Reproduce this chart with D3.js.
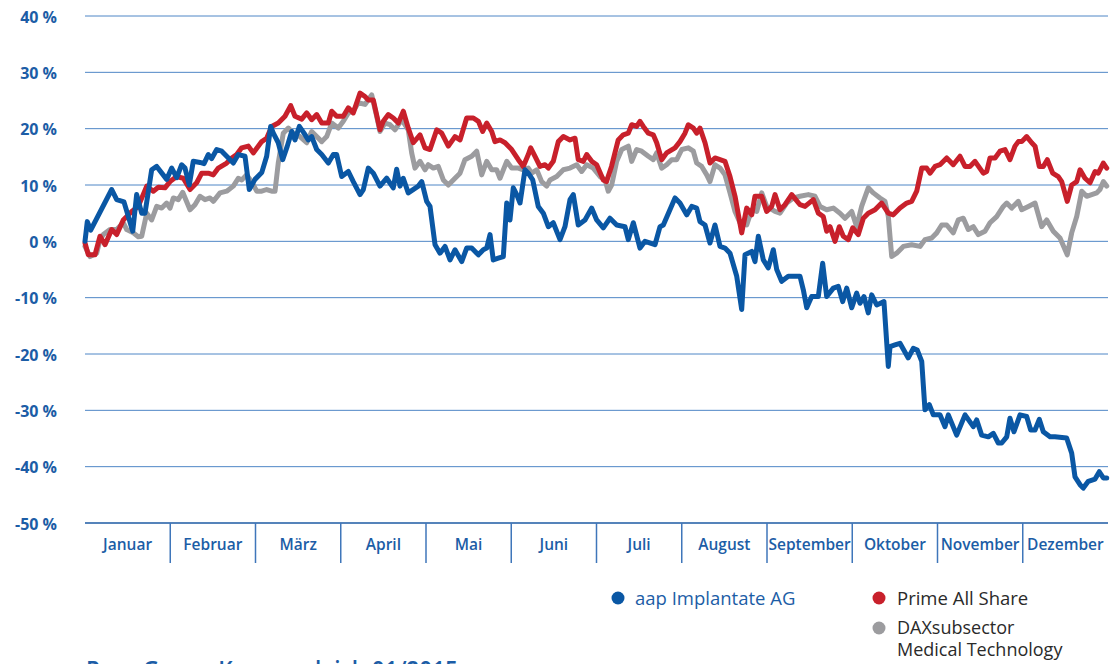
<!DOCTYPE html>
<html><head><meta charset="utf-8">
<script src="https://cdn.jsdelivr.net/npm/d3@7"></script>
<style>
html,body{margin:0;padding:0;background:#fff;overflow:hidden}
svg{display:block}
text{font-family:"Open Sans","DejaVu Sans",sans-serif}
</style></head>
<body>
<svg id="chart" width="1111" height="664"></svg>
<script>
// ---- data ----
const months = ["Januar","Februar","März","April","Mai","Juni","Juli","August","September","Oktober","November","Dezember"];
const yTicks = [40,30,20,10,0,-10,-20,-30,-40,-50];
const seriesNames = ["aap Implantate AG","Prime All Share","DAXsubsector","Medical Technology"];
const titleText = "Peer-Group-Kursvergleich 01/2015";

// [month position (0 = 1 Jan, 12 = 31 Dec), performance in %]
const aap = [[0,0],[0.027,3.5],[0.067,2],[0.313,9.2],[0.372,7.4],[0.457,7],[0.56,1.8],[0.606,8.3],[0.665,5],[0.704,5],[0.782,12.7],[0.841,13.3],[0.958,11],[1.017,13],[1.076,11.3],[1.134,13.6],[1.173,13],[1.223,10],[1.27,14.2],[1.349,14],[1.396,13.8],[1.446,15.4],[1.486,14.7],[1.545,16.3],[1.604,16],[1.74,13.9],[1.798,15.4],[1.877,15.1],[1.927,9.2],[1.994,11],[2.073,12.2],[2.131,15.1],[2.178,20.4],[2.209,19.2],[2.267,17.5],[2.319,14.5],[2.373,16.9],[2.425,19.5],[2.463,18],[2.514,20.4],[2.569,19.2],[2.619,18],[2.659,18.6],[2.718,16.3],[2.777,15.4],[2.854,13.9],[2.913,15.4],[2.952,15.4],[3.011,11.5],[3.089,12.4],[3.147,10.6],[3.226,8.3],[3.265,9.2],[3.323,13],[3.382,12.1],[3.46,9.8],[3.539,11.2],[3.616,9.5],[3.656,12.8],[3.695,9.8],[3.733,11.2],[3.792,8.6],[3.91,9.8],[3.95,10.6],[4.008,7.1],[4.047,6.2],[4.106,-0.6],[4.164,-2.1],[4.223,-0.9],[4.282,-3.3],[4.34,-1.5],[4.419,-3.6],[4.477,-1.2],[4.536,-1.2],[4.614,-2.4],[4.672,-1.5],[4.712,-1.2],[4.751,1.2],[4.789,-3.3],[4.848,-3],[4.907,-2.7],[4.947,6.8],[4.985,3.8],[5.024,9.5],[5.064,8.3],[5.103,6.8],[5.161,12.7],[5.2,12.1],[5.252,10.9],[5.317,6.2],[5.376,5],[5.435,2.6],[5.493,3.3],[5.572,0.3],[5.63,2.6],[5.689,7.4],[5.728,8.3],[5.786,2.9],[5.865,3.8],[5.944,5.9],[6.002,3.8],[6.08,2.4],[6.158,4.1],[6.237,2.9],[6.334,2.6],[6.373,0.3],[6.432,3.3],[6.51,-1.2],[6.569,0],[6.686,-0.6],[6.745,2.6],[6.784,2.9],[6.921,7.7],[6.979,6.8],[7.058,4.7],[7.117,6.2],[7.175,5.9],[7.214,3.5],[7.273,2.9],[7.331,-0.3],[7.39,2.9],[7.449,-0.9],[7.507,-1.2],[7.566,-2.1],[7.645,-6.2],[7.703,-12.1],[7.742,-2.4],[7.821,-1.8],[7.859,-3.6],[7.898,0.9],[7.957,-3.3],[8.015,-4.7],[8.074,-1.5],[8.114,-5],[8.172,-7.1],[8.25,-6.2],[8.387,-6.2],[8.426,-8.6],[8.466,-11.8],[8.524,-9.8],[8.602,-9.8],[8.653,-3.9],[8.7,-9.8],[8.778,-8.3],[8.836,-8],[8.888,-10.7],[8.935,-8.3],[8.994,-11.8],[9.052,-9.2],[9.091,-11],[9.138,-9.8],[9.188,-12.7],[9.228,-9.5],[9.287,-11.3],[9.372,-10.7],[9.423,-22.2],[9.443,-18.7],[9.501,-18.4],[9.56,-18.1],[9.657,-20.7],[9.716,-19],[9.763,-19.3],[9.815,-21.3],[9.853,-29.9],[9.904,-29],[9.951,-30.8],[10.029,-30.8],[10.088,-32.9],[10.127,-30.8],[10.225,-34.4],[10.323,-30.8],[10.42,-32.9],[10.46,-31.7],[10.518,-34.4],[10.596,-34.7],[10.655,-34.1],[10.713,-35.8],[10.753,-35.8],[10.812,-34.7],[10.85,-31.4],[10.897,-33.8],[10.968,-30.8],[11.046,-31.1],[11.093,-33.5],[11.144,-33.5],[11.194,-31.6],[11.241,-33.8],[11.32,-34.7],[11.378,-34.7],[11.515,-34.9],[11.574,-37.6],[11.613,-41.8],[11.672,-43.2],[11.71,-43.8],[11.769,-42.6],[11.848,-42.2],[11.898,-40.9],[11.945,-42],[11.985,-42]];

const prime = [[0,-0.3],[0.039,-2.4],[0.117,-2.4],[0.176,0.9],[0.235,-0.6],[0.313,2.1],[0.372,1.2],[0.449,3.8],[0.548,5.3],[0.625,6.2],[0.724,9.8],[0.801,8.9],[0.86,9.6],[0.938,9.5],[0.997,10.6],[1.076,11.5],[1.153,11.2],[1.232,9.2],[1.31,10.4],[1.369,12.1],[1.446,12.1],[1.505,11.8],[1.564,13],[1.662,13.9],[1.721,14.8],[1.779,15.4],[1.838,16.6],[1.916,16.9],[1.974,15.7],[2.073,17.7],[2.131,18.3],[2.19,20.4],[2.267,21],[2.346,22.2],[2.413,24.1],[2.463,22.2],[2.542,21.7],[2.601,22.8],[2.659,21.6],[2.718,22.5],[2.777,21],[2.854,21],[2.894,23.1],[2.952,22.2],[3.03,22.2],[3.089,23.7],[3.147,22.8],[3.226,26.3],[3.284,25.7],[3.323,25.1],[3.382,25.1],[3.46,19.8],[3.499,21.3],[3.558,22.5],[3.616,21.9],[3.675,21],[3.734,23.1],[3.792,20.1],[3.851,17.5],[3.93,18.9],[3.988,16.6],[4.047,16.3],[4.126,19.8],[4.184,19.2],[4.262,16.9],[4.34,18.6],[4.399,18],[4.477,21.9],[4.555,21.9],[4.614,21.3],[4.665,19.5],[4.712,21],[4.771,19.5],[4.809,17.7],[4.868,18],[4.927,17.5],[5.005,16.3],[5.083,14.5],[5.141,13.3],[5.2,15.4],[5.228,16.6],[5.279,15.1],[5.337,13.3],[5.396,13.6],[5.435,13],[5.493,14.2],[5.552,17.7],[5.611,18.6],[5.689,18],[5.748,18.3],[5.786,14.5],[5.845,14.2],[5.885,15.4],[5.944,14.2],[6.002,13.6],[6.08,10.9],[6.117,10.6],[6.176,13.3],[6.255,18],[6.314,18.9],[6.373,19.2],[6.413,20.7],[6.471,20.4],[6.51,21.3],[6.549,20.4],[6.608,19.2],[6.666,18.9],[6.706,17.5],[6.765,14.5],[6.823,15.7],[6.921,16.6],[6.979,17.7],[7.038,19.2],[7.077,20.7],[7.136,20.1],[7.175,19.2],[7.214,20.1],[7.273,17.5],[7.331,13.9],[7.39,14.8],[7.449,14.5],[7.507,14.2],[7.566,11.5],[7.625,8],[7.703,1.5],[7.762,5.9],[7.821,4.7],[7.859,8],[7.938,8],[7.996,5.3],[8.055,6.2],[8.094,8.3],[8.152,5.6],[8.211,6.5],[8.29,8.3],[8.387,6.5],[8.446,6.2],[8.543,7.4],[8.602,5],[8.66,4.4],[8.7,1.8],[8.739,2.6],[8.798,0],[8.848,2.6],[8.895,0.9],[8.954,0.3],[9.005,2.4],[9.071,1.2],[9.13,4.1],[9.188,5],[9.267,5.6],[9.345,6.8],[9.423,5],[9.481,4.7],[9.56,5.9],[9.639,6.8],[9.697,7.1],[9.756,8.9],[9.815,13],[9.873,13],[9.912,12.1],[9.971,13.3],[10.029,13.6],[10.108,14.8],[10.185,13.6],[10.264,15.1],[10.323,13.3],[10.381,13.3],[10.44,14.2],[10.537,12.1],[10.577,12.4],[10.616,14.8],[10.675,14.8],[10.733,16],[10.792,16.3],[10.85,14.5],[10.909,16.9],[10.948,17.7],[10.988,17.7],[11.046,18.6],[11.105,17.5],[11.144,16.9],[11.194,13.3],[11.241,13.3],[11.288,14.5],[11.351,12.1],[11.417,11.5],[11.457,10.6],[11.522,7.1],[11.574,10],[11.633,10.6],[11.672,12.7],[11.73,11.2],[11.789,10.4],[11.848,12.4],[11.886,12.1],[11.945,13.9],[11.985,13]];

const dax = [[0,-0.9],[0.059,-2.7],[0.137,-2.1],[0.176,0.3],[0.215,1.2],[0.293,2.1],[0.372,2.1],[0.449,3.3],[0.489,2.1],[0.567,1.5],[0.625,0.8],[0.665,0.9],[0.724,5],[0.782,3.8],[0.841,6.2],[0.9,5.9],[0.958,6.8],[0.997,5.9],[1.036,7.7],[1.094,7.4],[1.146,8.7],[1.232,5.6],[1.29,6.5],[1.349,8],[1.408,7.4],[1.466,7.7],[1.505,7.1],[1.584,8.6],[1.662,8.9],[1.74,9.8],[1.798,11.2],[1.838,10.9],[1.897,11.8],[1.955,10.6],[2.014,8.9],[2.073,8.9],[2.131,9.2],[2.19,8.9],[2.229,8.9],[2.267,13.9],[2.326,19.2],[2.385,20.1],[2.443,19.2],[2.522,18.6],[2.601,17.5],[2.659,19.5],[2.718,18.6],[2.777,17.7],[2.835,18.6],[2.894,21],[2.971,20.1],[3.03,21.3],[3.089,22.8],[3.147,23.1],[3.206,24.6],[3.284,24.3],[3.363,26],[3.421,22.2],[3.46,19.5],[3.519,21],[3.578,20.7],[3.636,19.8],[3.715,21.6],[3.792,19.8],[3.832,15.7],[3.871,13],[3.93,14.2],[3.988,12.7],[4.027,13.6],[4.086,13],[4.144,13.3],[4.203,10.9],[4.262,10],[4.32,10.9],[4.399,12.1],[4.457,14.5],[4.536,15.1],[4.595,16],[4.653,11.8],[4.712,14.2],[4.771,12.7],[4.829,12.7],[4.868,11.2],[4.947,14.2],[5.005,13],[5.083,13],[5.141,12.7],[5.2,13],[5.24,12.1],[5.299,12.7],[5.357,10.6],[5.416,9.8],[5.455,10.9],[5.533,11.5],[5.611,12.7],[5.689,13],[5.768,13.6],[5.826,12.4],[5.885,13.6],[5.962,13],[6.041,11.5],[6.1,10.9],[6.138,8.9],[6.178,10],[6.237,14.2],[6.296,16.3],[6.373,16.9],[6.413,14.2],[6.471,16.3],[6.53,16],[6.608,15.1],[6.666,14.5],[6.706,15.7],[6.765,13],[6.823,13.6],[6.882,14.5],[6.941,14.5],[7,16.3],[7.077,16.6],[7.136,16],[7.175,13.9],[7.234,13.3],[7.293,11.8],[7.331,10.6],[7.39,13.6],[7.449,13],[7.507,11.8],[7.566,8.6],[7.625,5.3],[7.683,3.3],[7.762,2.9],[7.821,5.6],[7.879,5.3],[7.938,8.6],[7.996,6.2],[8.094,5.3],[8.152,5],[8.231,6.8],[8.309,7.7],[8.387,8],[8.485,8.3],[8.563,8],[8.622,6.2],[8.7,5.6],[8.778,5.9],[8.856,5],[8.915,4.1],[8.994,5.3],[9.052,2.6],[9.11,6.2],[9.188,9.5],[9.247,8.6],[9.325,7.7],[9.384,7.1],[9.423,4.4],[9.463,-2.7],[9.521,-2.1],[9.599,-0.9],[9.697,-0.6],[9.795,-0.9],[9.853,0.3],[9.932,0.6],[9.991,1.5],[10.049,2.9],[10.108,2.9],[10.185,1.5],[10.244,3.8],[10.303,4.1],[10.361,2.1],[10.42,2.6],[10.479,1.2],[10.557,1.8],[10.616,3.3],[10.694,4.4],[10.772,6.2],[10.812,6.8],[10.87,5.9],[10.948,7.1],[10.988,5.6],[11.066,6.2],[11.144,6.8],[11.222,2.6],[11.281,3.8],[11.358,1.8],[11.437,0.6],[11.522,-2.4],[11.574,1.5],[11.633,4.4],[11.692,8.9],[11.75,8],[11.809,8.3],[11.868,8.6],[11.906,9.2],[11.945,10.6],[11.985,9.8]];

// ---- drawing ----
const svg = d3.select("#chart");
const W = 1111, H = 664;
const m = {left:85, right:3, top:16, bottom:141};
const x = d3.scaleLinear().domain([0,12]).range([m.left, W - m.right]);
const y = d3.scaleLinear().domain([-50,40]).range([H - m.bottom, m.top]);

const BLUE = "#0a57a4", RED = "#c8202b", GRAY = "#9c9c9f", TXT = "#1c5da6";

// grid lines
svg.append("g").selectAll("line").data(yTicks).join("line")
  .attr("x1", x(0)).attr("x2", x(12))
  .attr("y1", d => y(d)).attr("y2", d => y(d))
  .attr("stroke", d => d === -50 ? "#1d5aa3" : "#4f86c6")
  .attr("stroke-width", d => d === -50 ? 1.5 : 1);

// y labels
svg.append("g").selectAll("text").data(yTicks).join("text")
  .attr("x", 57).attr("y", d => y(d) + 6.5)
  .attr("text-anchor", "end")
  .attr("font-size", 16).attr("font-weight", 700)
  .attr("fill", TXT)
  .text(d => d + " %");

// month separators and labels
const mIdx = d3.range(1, 12);
svg.append("g").selectAll("line").data(mIdx).join("line")
  .attr("x1", d => x(d)).attr("x2", d => x(d))
  .attr("y1", y(-50)).attr("y2", y(-50) + 40)
  .attr("stroke", "#3f76ba").attr("stroke-width", 1.5);
svg.append("g").selectAll("text").data(months).join("text")
  .attr("x", (d,i) => x(i + 0.5)).attr("y", y(-50) + 26.5)
  .attr("text-anchor", "middle")
  .attr("font-size", 15.5).attr("font-weight", 600)
  .attr("fill", TXT)
  .text(d => d);

// lines
const line = d3.line().x(d => x(d[0])).y(d => y(d[1]));
[[dax, GRAY], [prime, RED], [aap, BLUE]].forEach(([data, col]) => {
  svg.append("path").datum(data)
    .attr("d", line)
    .attr("fill", "none")
    .attr("stroke", col)
    .attr("stroke-width", 5)
    .attr("stroke-linejoin", "round")
    .attr("stroke-linecap", "round");
});

// legend
const lg = svg.append("g");
lg.append("circle").attr("cx", 618).attr("cy", 598).attr("r", 6.5).attr("fill", BLUE);
lg.append("text").attr("x", 635).attr("y", 605).attr("font-size", 18.5).attr("font-weight", 500)
  .attr("fill", TXT).text(seriesNames[0]);
lg.append("circle").attr("cx", 879).attr("cy", 598).attr("r", 6.5).attr("fill", RED);
lg.append("text").attr("x", 897).attr("y", 605).attr("font-size", 18.5).attr("font-weight", 500)
  .attr("fill", "#2a2a2a").text(seriesNames[1]);
lg.append("circle").attr("cx", 879).attr("cy", 628).attr("r", 6.5).attr("fill", GRAY);
lg.append("text").attr("x", 897).attr("y", 634).attr("font-size", 18).attr("font-weight", 500)
  .attr("fill", "#2a2a2a").text(seriesNames[2]);
lg.append("text").attr("x", 897).attr("y", 656).attr("font-size", 18).attr("font-weight", 500)
  .attr("fill", "#2a2a2a").text(seriesNames[3]);

// clipped title at bottom (cut off by the page edge, as in the original)
svg.append("text").attr("x", 86).attr("y", 679)
  .attr("font-size", 25).attr("font-weight", 600)
  .attr("fill", TXT)
  .attr("textLength", 372).attr("lengthAdjust", "spacingAndGlyphs")
  .text(titleText);
</script>
</body></html>
